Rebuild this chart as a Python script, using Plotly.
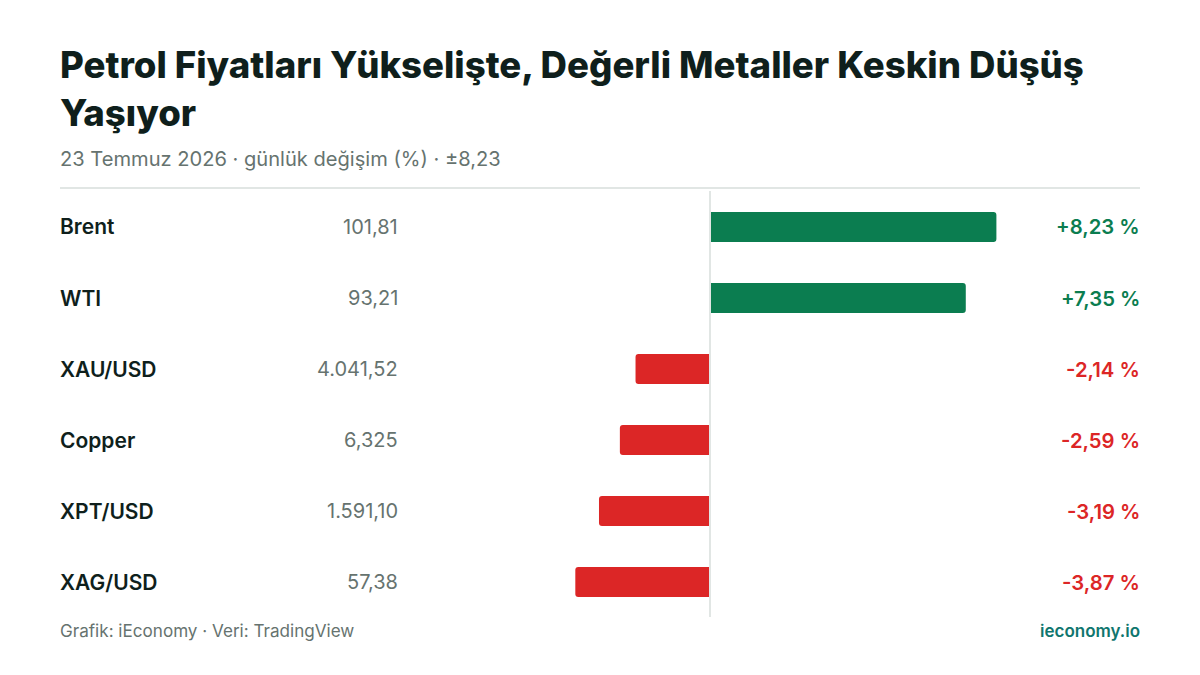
import plotly.graph_objects as go

FONT = "Inter"
INK = "#0f1f1c"
MUTED = "#66736f"
GREEN = "#0b7d50"
RED = "#dc2626"
TEAL = "#0f766e"
RULE = "#e1e6e4"

names = ["Brent", "WTI", "XAU/USD", "Copper", "XPT/USD", "XAG/USD"]
prices = ["101,81", "93,21", "4.041,52", "6,325", "1.591,10", "57,38"]
changes = [8.23, 7.35, -2.14, -2.59, -3.19, -3.87]
change_labels = ["+8,23 %", "+7,35 %", "-2,14 %", "-2,59 %", "-3,19 %", "-3,87 %"]

colors = [GREEN if v > 0 else RED for v in changes]

# the page body has an 8px margin, so page pixels are shifted by that
PAGE_MARGIN = 8
PX_PER_UNIT = 34.8
ZERO_X = 710
LEFT = 60
RIGHT = 1140


def pixel_y(y):
    return 1 - (y - PAGE_MARGIN) / 675


def text_row(x, y, text, anchor, size, color, weight=400, xshift=0, yshift=0):
    fig.add_annotation(x=x, xref="paper", y=y, yref="paper", text=text, showarrow=False,
                       xanchor=anchor, yanchor="middle", align="left", xshift=xshift, yshift=yshift,
                       font=dict(size=size, color=color, family=FONT, weight=weight))


fig = go.Figure()
fig.add_trace(go.Bar(
    x=changes,
    y=names,
    orientation="h",
    width=30 / 71,
    marker=dict(color=colors, line_width=0, cornerradius=3),
    hoverinfo="skip",
))

fig.update_xaxes(visible=False, range=[(LEFT - ZERO_X) / PX_PER_UNIT, (RIGHT - ZERO_X) / PX_PER_UNIT])
fig.update_yaxes(visible=False, autorange="reversed", domain=[pixel_y(617.5), pixel_y(191.5)])

fig.update_layout(
    width=1200,
    height=675,
    margin=dict(l=LEFT - PAGE_MARGIN, r=1200 - RIGHT + PAGE_MARGIN, t=0, b=0),
    paper_bgcolor="white",
    plot_bgcolor="white",
    showlegend=False,
    font=dict(family=FONT),
)

# rows: names, prices and change labels sit on the same category positions
for name, price, label, color in zip(names, prices, change_labels, colors):
    fig.add_annotation(x=0, xref="paper", y=name, yref="y", text=name, showarrow=False,
                       xanchor="left", xshift=-2,
                       font=dict(size=21, color=INK, family=FONT, weight=600))
    fig.add_annotation(x=(399.5 - LEFT) / (RIGHT - LEFT), xref="paper", y=name, yref="y", text=price,
                       showarrow=False, xanchor="right",
                       font=dict(size=20, color=MUTED, family=FONT))
    fig.add_annotation(x=1, xref="paper", y=name, yref="y", text=label, showarrow=False,
                       xanchor="right", xshift=1.5, font=dict(size=20.3, color=color, family=FONT, weight=600))

# title block and footer, placed in page pixels
text_row(0, pixel_y(89), "Petrol Fiyatları Yükselişte, Değerli Metaller Keskin Düşüş<br>Yaşıyor",
         "left", 36.6, INK, weight=800, xshift=-2)
text_row(0, pixel_y(159), "23 Temmuz 2026 · günlük değişim (%) · ±8,23", "left", 20.1, MUTED, xshift=-2)
text_row(0, pixel_y(630.5), "Grafik: iEconomy · Veri: TradingView", "left", 17.1, MUTED, xshift=-2)
text_row(1, pixel_y(630.5), "ieconomy.io", "right", 17, TEAL, weight=600, xshift=1.5)

# header rule and zero line
fig.add_shape(type="line", xref="paper", x0=0, x1=1, yref="paper", y0=pixel_y(188), y1=pixel_y(188),
              line=dict(color=RULE, width=2))
fig.add_shape(type="line", xref="x", x0=0, x1=0, yref="paper", y0=pixel_y(191), y1=pixel_y(617),
              line=dict(color=RULE, width=2), layer="above")

fig.write_html("out.html")
